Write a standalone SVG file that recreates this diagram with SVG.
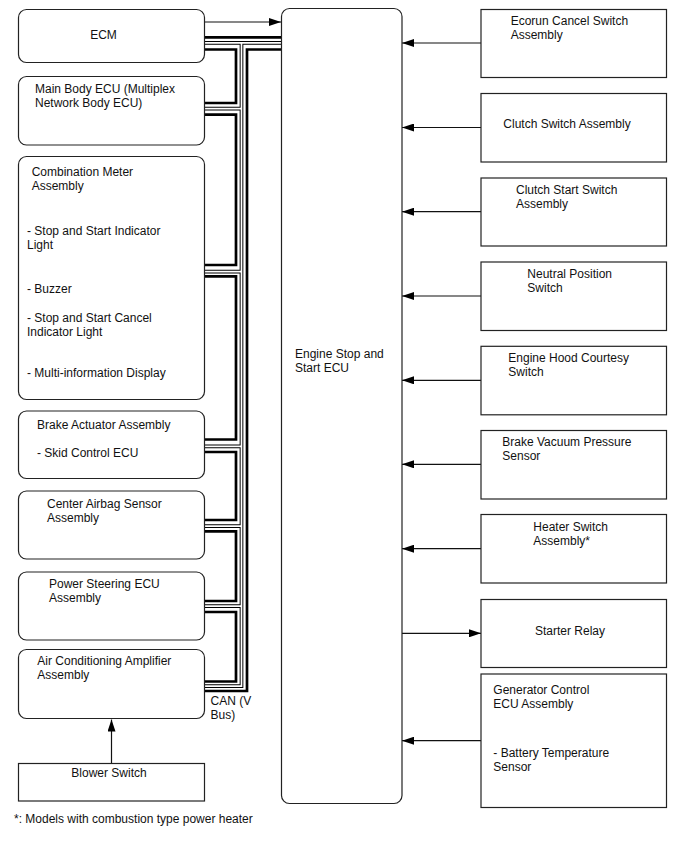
<svg xmlns="http://www.w3.org/2000/svg" width="688" height="852" viewBox="0 0 688 852">
<style>
  .box{fill:#fff;stroke:#222;stroke-width:1.2}
  .t{font-family:"Liberation Sans",Arial,sans-serif;font-size:12px;fill:#111}
  .arr{stroke:#111;stroke-width:1.2;fill:none;marker-end:url(#ah)}
  .pipeB{fill:none;stroke:#000;stroke-width:3.7;stroke-linejoin:miter}
  .pipeW{fill:none;stroke:#fff;stroke-width:1.7;stroke-linejoin:miter}
  .thick{fill:none;stroke:#000;stroke-width:2.7;stroke-linejoin:miter}
</style>
<defs>
  <marker id="ah" markerUnits="userSpaceOnUse" markerWidth="12" markerHeight="8" refX="12" refY="4" orient="auto">
    <path d="M0,0 L12,4 L0,8 z" fill="#000"/>
  </marker>
</defs>
<rect width="688" height="852" fill="#fff"/>

<g id="can-bus">
  <path class="pipeB" d="M205,42.85 H281 M241.5,42.85 V686.2 H205 M205,108.65 H241.5 M205,271.65 H241.5 M205,446.35 H241.5 M205,526.15 H241.5 M205,606.15 H241.5"/>
  <path class="pipeW" d="M205,42.85 H281 M241.5,42.85 V686.2 H205 M205,108.65 H241.5 M205,271.65 H241.5 M205,446.35 H241.5 M205,526.15 H241.5 M205,606.15 H241.5"/>
  <path class="thick" d="M205,37.3 H281 M281,49.5 H247 V691 H205 M205,49.5 H236 V103 H205 M205,114.7 H236 V265 H205 M205,276.3 H236 V439.5 H205 M205,452 H236 V520 H205 M205,531.3 H236 V601 H205 M205,612 H236 V681.5 H205"/>
  <text class="t" x="210.5" y="705">CAN (V</text>
  <text class="t" x="210.5" y="719">Bus)</text>
</g>

<g id="connectors">
  <path class="arr" d="M205,22 H281"/>
  <path class="arr" d="M111.5,763 V719.5"/>
  <path class="arr" d="M481,43 H402"/>
  <path class="arr" d="M481,127.5 H402"/>
  <path class="arr" d="M481,211.7 H402"/>
  <path class="arr" d="M481,296 H402"/>
  <path class="arr" d="M481,380.3 H402"/>
  <path class="arr" d="M481,464.3 H402"/>
  <path class="arr" d="M481,548.7 H402"/>
  <path class="arr" d="M402,633.3 H481"/>
  <path class="arr" d="M481,740.7 H402"/>
</g>

<g id="ecm">
  <rect class="box" x="18.5" y="9.5" width="186" height="53" rx="8"/>
  <text class="t" x="103.5" y="39.3" text-anchor="middle">ECM</text>
</g>
<g id="main-body-ecu">
  <rect class="box" x="18.5" y="76.5" width="186" height="68.5" rx="8"/>
  <text class="t" x="35" y="92.7">Main Body ECU (Multiplex</text>
  <text class="t" x="35" y="106.5">Network Body ECU)</text>
</g>
<g id="combination-meter">
  <rect class="box" x="18.5" y="156.5" width="186" height="243" rx="8"/>
  <text class="t" x="31.7" y="175.7">Combination Meter</text>
  <text class="t" x="31.7" y="189.5">Assembly</text>
  <text class="t" x="27" y="235">- Stop and Start Indicator</text>
  <text class="t" x="27" y="249">Light</text>
  <text class="t" x="27" y="293.3">- Buzzer</text>
  <text class="t" x="27" y="322.3">- Stop and Start Cancel</text>
  <text class="t" x="27" y="336.3">Indicator Light</text>
  <text class="t" x="27" y="376.7">- Multi-information Display</text>
</g>
<g id="brake-actuator">
  <rect class="box" x="18.5" y="411" width="186" height="67.5" rx="8"/>
  <text class="t" x="37" y="429">Brake Actuator Assembly</text>
  <text class="t" x="37" y="456.5">- Skid Control ECU</text>
</g>
<g id="center-airbag">
  <rect class="box" x="18.5" y="491" width="186" height="68" rx="8"/>
  <text class="t" x="47" y="508">Center Airbag Sensor</text>
  <text class="t" x="47" y="522">Assembly</text>
</g>
<g id="power-steering-ecu">
  <rect class="box" x="18.5" y="572" width="186" height="68" rx="8"/>
  <text class="t" x="49" y="588">Power Steering ECU</text>
  <text class="t" x="49" y="602">Assembly</text>
</g>
<g id="ac-amplifier">
  <rect class="box" x="18.5" y="649.5" width="186" height="69" rx="8"/>
  <text class="t" x="37.3" y="665">Air Conditioning Amplifier</text>
  <text class="t" x="37.3" y="679">Assembly</text>
</g>
<g id="blower-switch">
  <rect class="box" x="18.5" y="763.5" width="186" height="37.5"/>
  <text class="t" x="109" y="776.7" text-anchor="middle">Blower Switch</text>
</g>

<g id="engine-stop-start-ecu">
  <rect class="box" x="281.5" y="8.5" width="120.5" height="795" rx="8"/>
  <text class="t" x="295" y="358">Engine Stop and</text>
  <text class="t" x="295" y="372">Start ECU</text>
</g>

<g id="ecorun-cancel-switch">
  <rect class="box" x="481" y="9.5" width="185.5" height="68"/>
  <text class="t" x="510.7" y="25">Ecorun Cancel Switch</text>
  <text class="t" x="510.7" y="39">Assembly</text>
</g>
<g id="clutch-switch">
  <rect class="box" x="481" y="93.5" width="185.5" height="68.5"/>
  <text class="t" x="503.3" y="128.3">Clutch Switch Assembly</text>
</g>
<g id="clutch-start-switch">
  <rect class="box" x="481" y="178" width="185.5" height="68"/>
  <text class="t" x="516" y="194.3">Clutch Start Switch</text>
  <text class="t" x="516" y="208.3">Assembly</text>
</g>
<g id="neutral-position-switch">
  <rect class="box" x="481" y="262" width="185.5" height="68.5"/>
  <text class="t" x="527.3" y="278.3">Neutral Position</text>
  <text class="t" x="527.3" y="292.3">Switch</text>
</g>
<g id="engine-hood-courtesy-switch">
  <rect class="box" x="481" y="346.3" width="185.5" height="68.5"/>
  <text class="t" x="508.3" y="362.3">Engine Hood Courtesy</text>
  <text class="t" x="508.3" y="376.3">Switch</text>
</g>
<g id="brake-vacuum-sensor">
  <rect class="box" x="481" y="430.5" width="185.5" height="68.5"/>
  <text class="t" x="502.3" y="445.7">Brake Vacuum Pressure</text>
  <text class="t" x="502.3" y="459.7">Sensor</text>
</g>
<g id="heater-switch">
  <rect class="box" x="481" y="514.5" width="185.5" height="68.5"/>
  <text class="t" x="533.3" y="531">Heater Switch</text>
  <text class="t" x="533.3" y="545">Assembly*</text>
</g>
<g id="starter-relay">
  <rect class="box" x="481" y="599.5" width="185.5" height="68"/>
  <text class="t" x="570" y="635" text-anchor="middle">Starter Relay</text>
</g>
<g id="generator-control-ecu">
  <rect class="box" x="481" y="674" width="185.5" height="133.5"/>
  <text class="t" x="493.3" y="694">Generator Control</text>
  <text class="t" x="493.3" y="708">ECU Assembly</text>
  <text class="t" x="493.3" y="756.7">- Battery Temperature</text>
  <text class="t" x="493.3" y="770.7">Sensor</text>
</g>

<text class="t" x="14" y="822.7">*: Models with combustion type power heater</text>
</svg>
